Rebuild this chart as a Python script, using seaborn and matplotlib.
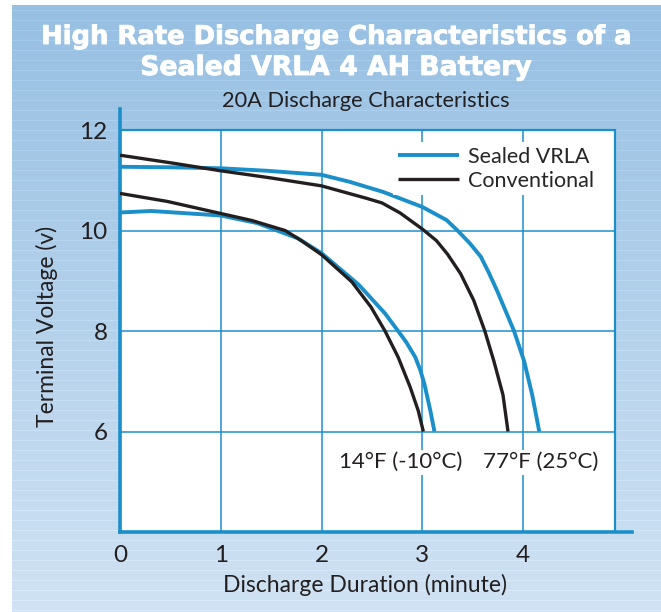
import numpy as np
import pandas as pd
import matplotlib
matplotlib.use("Agg")
import matplotlib.pyplot as plt
import matplotlib.patheffects as pe
from matplotlib.patches import Rectangle
import seaborn as sns

# --- data (minutes, volts) ---
vrla_25_x = [0, 0.5, 1.0, 1.46, 2.0, 2.28, 2.61, 3.0, 3.24, 3.35, 3.47, 3.58, 3.66, 3.74, 3.91, 4.01, 4.09, 4.16]
vrla_25_y = [11.27, 11.26, 11.24, 11.19, 11.11, 10.97, 10.77, 10.47, 10.21, 10.0, 9.75, 9.48, 9.16, 8.81, 8.0, 7.40, 6.73, 6.0]

conv_25_x = [0, 0.5, 1.0, 1.49, 2.0, 2.45, 2.6, 2.78, 3.0, 3.14, 3.25, 3.38, 3.51, 3.62, 3.71, 3.80, 3.85]
conv_25_y = [11.50, 11.35, 11.19, 11.05, 10.89, 10.64, 10.55, 10.35, 10.03, 9.80, 9.53, 9.14, 8.61, 8.0, 7.40, 6.73, 6.0]

vrla_14_x = [0, 0.31, 1.0, 1.36, 1.76, 2.0, 2.37, 2.63, 2.76, 2.84, 2.93, 2.98, 3.02, 3.08, 3.12]
vrla_14_y = [10.36, 10.39, 10.30, 10.15, 9.85, 9.55, 8.92, 8.35, 8.0, 7.78, 7.48, 7.22, 6.95, 6.41, 6.0]

conv_14_x = [0, 0.47, 1.0, 1.31, 1.64, 1.8, 2.0, 2.30, 2.49, 2.63, 2.76, 2.88, 2.96, 3.01]
conv_14_y = [10.74, 10.58, 10.34, 10.2, 10.0, 9.8, 9.52, 8.98, 8.48, 8.0, 7.48, 6.88, 6.41, 6.0]

x_ticks = [0, 1, 2, 3, 4]
y_ticks = [6, 8, 10, 12]
temp_labels = ["14°F (-10°C)", "77°F (25°C)"]
temp_label_x = [2.79, 4.17]

BLUE = "#1b8fca"
BLACK = "#231f20"

df = pd.concat([
    pd.DataFrame({"minute": vrla_25_x, "volt": vrla_25_y, "battery": "Sealed VRLA", "temp": "25C"}),
    pd.DataFrame({"minute": conv_25_x, "volt": conv_25_y, "battery": "Conventional", "temp": "25C"}),
    pd.DataFrame({"minute": vrla_14_x, "volt": vrla_14_y, "battery": "Sealed VRLA", "temp": "-10C"}),
    pd.DataFrame({"minute": conv_14_x, "volt": conv_14_y, "battery": "Conventional", "temp": "-10C"}),
])

sns.set_theme(style="white")
plt.rcParams["font.family"] = ["Lato", "DejaVu Sans"]

fig = plt.figure(figsize=(6.61, 6.12), dpi=100)

# background gradient with faint stripes
h, w = 612, 661
top = np.array([150, 191, 226]) / 255
bot = np.array([208, 226, 243]) / 255
t = np.linspace(0, 1, h)[:, None]
col = top * (1 - t) + bot * t
img = np.repeat(col[:, None, :], w, axis=1)
img[::10, :, :] = np.clip(img[::10, :, :] + 0.04, 0, 1)
img[:5, :, :] = 1
img[:, :12, :] = 1
bg = fig.add_axes([0, 0, 1, 1], zorder=-10)
bg.imshow(img, aspect="auto", interpolation="nearest")
bg.axis("off")

ax = fig.add_axes([0.1815, 0.1307, 0.7746, 0.6912])
ax.set_facecolor("none")
ax.set_xlim(0, 5.08)
ax.set_ylim(4, 12.42)

# white plot panel with grid
ax.add_patch(Rectangle((0, 4), 4.91, 8, facecolor="white", edgecolor=BLUE, lw=1.6, zorder=0))
ax.vlines(x_ticks[1:], 4, 12, color=BLUE, lw=1.1, zorder=1)
ax.hlines(y_ticks[:-1], 0, 4.91, color=BLUE, lw=1.1, zorder=1)

handles = {}
for (battery, temp), grp in df.groupby(["battery", "temp"], sort=False):
    color = BLUE if battery == "Sealed VRLA" else BLACK
    lw = 2.8 if battery == "Sealed VRLA" else 2.4
    sns.lineplot(data=grp, x="minute", y="volt", sort=False, color=color,
                 linewidth=lw, ax=ax, zorder=3, legend=False)
    ax.lines[-1].set_solid_capstyle("butt")
    ax.lines[-1].set_solid_joinstyle("round")
    handles[battery] = ax.lines[-1]

leg = ax.legend([handles["Sealed VRLA"], handles["Conventional"]],
                ["Sealed VRLA", "Conventional"],
                loc="upper right", bbox_to_anchor=(4.85, 11.97),
                bbox_transform=ax.transData, fontsize=15.5, frameon=True,
                fancybox=False, framealpha=1, handlelength=2.85,
                handletextpad=0.4, borderpad=0.2, labelspacing=0.2)
leg.get_frame().set_facecolor("white")
leg.get_frame().set_edgecolor("none")
leg.set_zorder(4)

for lbl, lx in zip(temp_labels, temp_label_x):
    ax.text(lx, 5.39, lbl, ha="center", va="center", fontsize=16, color=BLACK,
            bbox=dict(facecolor="white", edgecolor="none", pad=2), zorder=4)

for s in ["top", "right"]:
    ax.spines[s].set_visible(False)
for s in ["left", "bottom"]:
    ax.spines[s].set_color(BLUE)
    ax.spines[s].set_linewidth(2.6)

ax.set_xticks(x_ticks)
ax.set_yticks(y_ticks)
ax.tick_params(length=0, labelsize=17.5, labelcolor=BLACK)
ax.tick_params(axis="y", pad=9)
ax.tick_params(axis="x", pad=9)
ax.grid(False)

ax.set_xlabel("Discharge Duration (minute)", fontsize=16.5, color=BLACK)
ax.set_ylabel("Terminal Voltage (v)", fontsize=16.5, color=BLACK)
ax.xaxis.set_label_coords(0.478, -0.1)
ax.yaxis.set_label_coords(-0.122, 0.485)

title_fx = [pe.withStroke(linewidth=0.6, foreground="white")]
fig.text(0.509, 1 - 37 / 612, "High Rate Discharge Characteristics of a",
         ha="center", va="center", color="white", fontsize=18.6, fontweight="heavy",
         family=["DejaVu Sans"], path_effects=title_fx)
fig.text(0.508, 1 - 68 / 612, "Sealed VRLA 4 AH Battery",
         ha="center", va="center", color="white", fontsize=19.2, fontweight="heavy",
         family=["DejaVu Sans"], path_effects=title_fx)
fig.text(0.554, 1 - 101 / 612, "20A Discharge Characteristics",
         ha="center", va="center", color=BLACK, fontsize=15.7)

fig.savefig("out.png", dpi=100)
